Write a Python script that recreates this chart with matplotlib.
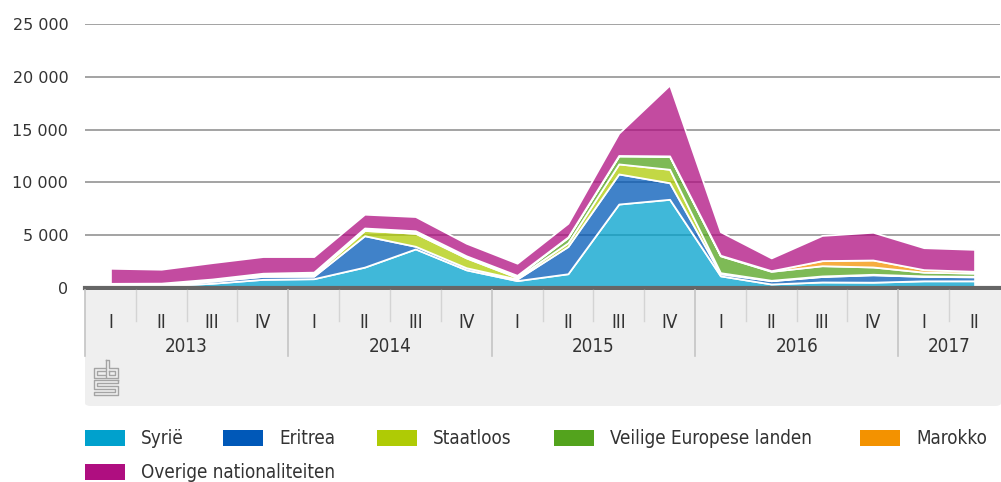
import matplotlib
matplotlib.use('Agg')
import matplotlib.pyplot as plt
import numpy as np
from matplotlib import font_manager as fm
from matplotlib.colors import to_rgba
from matplotlib.patches import Rectangle, FancyBboxPatch
from matplotlib.lines import Line2D
from matplotlib.transforms import blended_transform_factory

# asylum requests per quarter, 2013 I - 2017 II
quarters = ['I', 'II', 'III', 'IV'] * 4 + ['I', 'II']
years = ['2013', '2014', '2015', '2016', '2017']
year_centers = [1.5, 5.5, 9.5, 13.5, 16.5]

syrie = [150, 200, 450, 820, 880, 1980, 3700, 1720, 700, 1350, 7950, 8400, 1150, 380, 570, 550, 680, 680]
eritrea = [120, 100, 200, 280, 240, 2970, 250, 200, 150, 2580, 2850, 1570, 200, 310, 520, 700, 420, 380]
staatloos = [60, 60, 80, 120, 150, 500, 1230, 930, 150, 350, 950, 1270, 100, 40, 50, 50, 50, 50]
veilig = [70, 60, 80, 120, 150, 150, 180, 150, 150, 500, 750, 1220, 1600, 850, 970, 690, 350, 300]
marokko = [40, 40, 40, 60, 80, 80, 60, 50, 50, 50, 50, 50, 50, 60, 480, 660, 240, 170]
overig = [1430, 1320, 1550, 1580, 1480, 1310, 1350, 1190, 1150, 1300, 2110, 6710, 2230, 1210, 2390, 2630, 2080, 2080]

labels = ['Syrië', 'Eritrea', 'Staatloos', 'Veilige Europese landen', 'Marokko', 'Overige nationaliteiten']
colors = ['#00a1cd', '#0058b8', '#afcb05', '#53a31d', '#f39200', '#af0e80']

W, H = 1001, 482


def fx(px):
    return px / W


def fy(py):
    return 1 - py / H


# pick a condensed face for the category labels / legend if one is installed
have = {(f.name, f.stretch) for f in fm.fontManager.ttflist}
names = {f.name for f in fm.fontManager.ttflist}
if any(n == 'DejaVu Sans' and s in ('condensed', 'semi-condensed') for n, s in have):
    cfont = dict(family='DejaVu Sans', fontstretch='condensed', fontsize=13.5)
elif 'Liberation Sans Narrow' in names:
    cfont = dict(family='Liberation Sans Narrow', fontsize=15)
else:
    cfont = dict(family='DejaVu Sans', fontsize=12.5)

txt = '#333333'

fig = plt.figure(figsize=(W / 100, H / 100), dpi=100)
ax = fig.add_axes([fx(85), fy(288), fx(915), 264 / H])

x = np.arange(len(quarters))
fills = [to_rgba(c, 0.75) for c in colors]
ax.stackplot(x, syrie, eritrea, staatloos, veilig, marokko, overig,
             colors=fills, edgecolor='white', linewidth=1.3, zorder=3)

ax.set_xlim(-0.5, 17.5)
ax.set_ylim(0, 25000)
ax.set_yticks(range(0, 25001, 5000))
ax.set_yticklabels(['0', '5 000', '10 000', '15 000', '20 000', '25 000'])
ax.tick_params(axis='y', length=0, pad=12, labelsize=11.5, labelcolor=txt)
ax.set_xticks([])
for s in ax.spines.values():
    s.set_visible(False)
for v in range(5000, 25001, 5000):
    ax.axhline(v, color='#8a8a8a', lw=1.1, zorder=1)
ax.axhline(0, color='#666666', lw=3, zorder=6, clip_on=False)

# grey category panel under the axis
panel = FancyBboxPatch((fx(85), fy(406)), fx(916), (406 - 290) / H,
                       boxstyle='round,pad=0,rounding_size=0.006',
                       transform=fig.transFigure, fc='#efefef', ec='none', zorder=0)
fig.patches.append(panel)
fig.patches.append(Rectangle((fx(85), fy(350)), fx(916), 60 / H,
                             transform=fig.transFigure, fc='#efefef', ec='none', zorder=0))

tr = blended_transform_factory(ax.transData, fig.transFigure)
for k in range(18):
    b = k - 0.5
    if k in (0, 4, 8, 12, 16):
        fig.add_artist(Line2D([b, b], [fy(290), fy(356)], transform=tr, color='#c4c4c4', lw=1.2))
    else:
        fig.add_artist(Line2D([b, b], [fy(290), fy(321)], transform=tr, color='#d4d4d4', lw=1.0))
for i, q in enumerate(quarters):
    fig.text(i, fy(322), q, transform=tr, ha='center', va='center', color=txt, **cfont)
for yc, yr in zip(year_centers, years):
    fig.text(yc, fy(347), yr, transform=tr, ha='center', va='center', color=txt, **cfont)

# rough cbs logo (double outlined c, b and s)
logo = [
    [(105, 368), (94, 368), (94, 378), (105, 378)],
    [(105, 371), (97, 371), (97, 375), (105, 375)],
    [(106, 360), (106, 378), (118, 378), (118, 368), (109, 368), (109, 360), (106, 360)],
    [(109, 371), (115, 371), (115, 375), (109, 375), (109, 371)],
    [(118, 380), (94, 380), (94, 389), (115, 389), (115, 392), (94, 392), (94, 395), (118, 395),
     (118, 386), (97, 386), (97, 383), (118, 383), (118, 380)],
]
for pts in logo:
    xs = [fx(p[0]) for p in pts]
    ys = [fy(p[1]) for p in pts]
    fig.add_artist(Line2D(xs, ys, transform=fig.transFigure, color='#a4a4a4', lw=1.0))

# legend
entries = [(85, 438), (223, 438), (377, 438), (554, 438), (860, 438), (85, 472)]
for (lx, ly), lab, c in zip(entries, labels, colors):
    fig.patches.append(Rectangle((fx(lx), fy(ly + 8)), fx(40), 16 / H,
                                 transform=fig.transFigure, fc=c, ec='none'))
    fig.text(fx(lx + 56), fy(ly), lab, ha='left', va='center', color=txt, **cfont)

fig.savefig('out.png', dpi=100)
